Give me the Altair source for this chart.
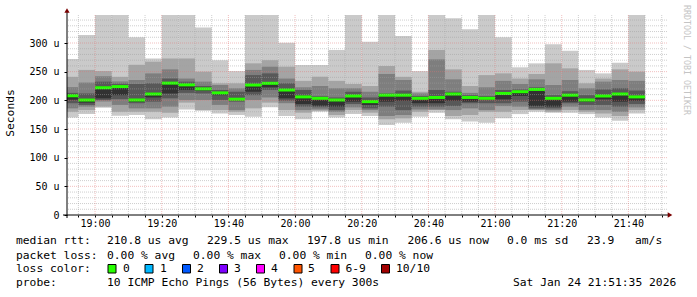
import altair as alt
import pandas as pd

# ---------------- data ----------------
bin_starts = ["18:50", "18:55", "19:00", "19:05", "19:10", "19:15", "19:20", "19:25",
              "19:30", "19:35", "19:40", "19:45", "19:50", "19:55", "20:00", "20:05",
              "20:10", "20:15", "20:20", "20:25", "20:30", "20:35", "20:40", "20:45",
              "20:50", "20:55", "21:00", "21:05", "21:10", "21:15", "21:20", "21:25",
              "21:30", "21:35", "21:40"]
step_minutes = 5
window_end = "21:51:35"
window_minutes = 180

# sorted ping values (us) per 5-minute step, p1 = fastest ... p10 = slowest
p1 = [170, 176, 187, 173, 174.5, 167, 170, 184, 182, 177, 174.4, 171.5, 187.8, 172.7, 167, 180, 170, 176,
      172.7, 157, 161, 171.5, 178.5, 167, 163, 161, 168.6, 176, 180, 178.5, 178.5, 176, 170, 164.5, 177]
p2 = [180, 183, 189, 180, 180, 180, 178.5, 196, 183, 183, 180, 186, 196, 183, 178.5, 182, 174.4, 183,
      178.5, 167, 168.6, 180, 183, 172.7, 174.4, 180, 180, 183, 183, 180, 183, 180, 177, 172.7, 183]
p3 = [186, 189, 198, 192, 186, 186, 189, 200.6, 200.6, 192, 183, 200.6, 205, 195, 183, 184, 180, 187.8,
      183, 172.7, 174.4, 184, 184, 183, 186, 183, 190, 189, 184, 183, 189, 183, 183, 180, 187.8]
p4 = [195, 192, 200.6, 202, 195, 197.7, 203.5, 213, 212, 200.6, 197.7, 209, 218, 199.4, 189, 187.8, 183, 193.6,
      186, 189, 183, 189, 189, 190, 195, 195, 195, 197.7, 186, 186, 195, 192, 192, 189, 193.6]
p5 = [201, 196, 203.5, 209, 197.7, 205, 212, 218, 217, 209, 200.6, 215, 222.7, 203.5, 193.6, 190.7, 189, 197.7,
      192, 197.7, 199.4, 195, 195, 199.4, 197.7, 200.6, 201.7, 207.6, 190, 189, 197.7, 197.7, 201.7, 197.7, 199.4]
p6 = [210, 202, 224, 226.5, 202, 213, 232, 228.5, 221.5, 214.5, 203.5, 228.5, 231, 220, 208, 204, 202, 209,
      199, 210, 210.5, 204.5, 206.5, 212.5, 206, 204.5, 213.5, 216, 220.5, 205, 210.5, 202, 209, 212.5, 207.5]
p7 = [213, 212, 232.6, 229, 228.5, 229.7, 238, 232.6, 225, 218, 215, 244, 247, 229.7, 218, 207, 205, 215,
      205, 212, 217, 207.6, 218, 215, 209, 207.6, 218, 219, 222.7, 209, 216, 209, 219, 221, 217]
p8 = [223, 231, 242, 233, 235.5, 247, 254, 238, 232.6, 226.7, 221, 253, 258.7, 238, 222.7, 225, 221, 221,
      215, 246, 235.5, 212, 271.5, 236.6, 213, 222.7, 234, 228.5, 236.6, 226.7, 235.5, 221, 232.6, 235.5, 234]
p9 = [241, 253, 251, 241, 262, 267.4, 273, 273, 250, 229.7, 229.7, 264.5, 270, 258.7, 234, 241, 234, 228.5,
      225, 260, 241, 215, 287.8, 254, 225, 244, 247, 238, 246, 264.5, 255.8, 229.7, 238, 254, 250]
p10 = [272, 314, 360, 360, 310, 273, 360, 360, 327, 270, 251, 360, 360, 300.6, 261.6, 261.6, 287.8, 360,
       302, 360, 312, 251, 360, 343, 324, 360, 310, 257.6, 264.5, 298, 286.6, 253, 247, 265.7, 360]
median = [208, 200.5, 222, 224, 200.6, 211, 230, 227, 220, 213, 202, 226.7, 229.7, 218, 206, 203.5, 200.6, 207.6,
          197.7, 209, 209, 203.5, 205, 211, 205, 203.5, 212, 215, 219, 203.5, 209, 200.6, 207.6, 211, 206]

x_tick_labels = ["19:00", "19:20", "19:40", "20:00", "20:20", "20:40", "21:00", "21:20", "21:40"]
y_tick_values = [0, 50, 100, 150, 200, 250, 300]
y_max = 348.84

smoke_colors = ["#cacaca", "#a4a4a4", "#7e7e7e", "#585858", "#323232"]
median_color = "#26ff00"

rtt_label = "median rtt:"
rtt_stats = ["210.8 us avg", "229.5 us max", "197.8 us min", "206.6 us now", "0.0 ms sd", "23.9", "am/s"]
loss_label = "packet loss:"
loss_stats = ["0.00 % avg", "0.00 % max", "0.00 % min", "0.00 % now"]
color_label = "loss color:"
loss_names = ["0", "1", "2", "3", "4", "5", "6-9", "10/10"]
loss_colors = ["#26ff00", "#00b8ff", "#0059ff", "#7e00ff", "#ff00ff", "#ff5500", "#ff0000", "#a10000"]
probe_label = "probe:"
probe_text = "10 ICMP Echo Pings (56 Bytes) every 300s"
stamp_text = "Sat Jan 24 21:51:35 2026"
watermark = "RRDTOOL / TOBI OETIKER"
y_title = "Seconds"


def to_min(s):
    parts = [int(v) for v in s.split(":")]
    while len(parts) < 3:
        parts.append(0)
    return parts[0] * 60 + parts[1] + parts[2] / 60.0


t1 = to_min(window_end)
t0 = t1 - window_minutes

pings = [p1, p2, p3, p4, p5, p6, p7, p8, p9, p10]
rows = []
for k in range(5):
    for i, s in enumerate(bin_starts):
        st = to_min(s)
        rows.append({"start": st, "end": st + step_minutes, "lo": pings[k][i],
                     "hi": pings[9 - k][i], "band": k + 1})
smoke_df = pd.DataFrame(rows)
med_df = pd.DataFrame({"start": [to_min(s) for s in bin_starts],
                       "end": [to_min(s) + step_minutes for s in bin_starts],
                       "median": median})

x_major = [to_min(s) for s in x_tick_labels]
first_tick = int(t0 // step_minutes + 1) * step_minutes
x_all = list(range(int(first_tick), int(t1), step_minutes))
x_minor = [v for v in x_all if v not in x_major]
y_major = [v for v in y_tick_values if v > 0]
y_minor = [v for v in range(10, int(y_max), 10) if v % 50 != 0]

FONT = "DejaVu Sans Mono"
xs = alt.Scale(domain=[t0, t1], nice=False, zero=False)
ys = alt.Scale(domain=[0, y_max], nice=False, zero=True)

x_axis = alt.Axis(values=x_all, domain=False, grid=False, tickSize=2, tickColor="black",
                  labelExpr="datum.value % 20 == 0 ? (floor(datum.value/60) + ':' + "
                            "(datum.value % 60 < 10 ? '0' : '') + (datum.value % 60)) : ''",
                  labelFont=FONT, labelFontSize=10, labelColor="black", labelPadding=1,
                  labelBaseline="top", title=None, labelFlush=False, labelOverlap=False)
y_axis = alt.Axis(values=y_tick_values, domain=False, grid=False, tickSize=3, tickColor="black",
                  labelExpr="datum.value == 0 ? '0\u00a0\u00a0' : datum.value + ' u'",
                  labelFont=FONT, labelFontSize=10, labelColor="black", labelPadding=5,
                  title=None, labelFlush=False, labelOverlap=False)

smoke = alt.Chart(smoke_df).mark_rect(clip=True, strokeWidth=0).encode(
    x=alt.X("start:Q", scale=xs, axis=x_axis),
    x2="end:Q",
    y=alt.Y("lo:Q", scale=ys, axis=y_axis),
    y2="hi:Q",
    color=alt.Color("band:O", scale=alt.Scale(domain=[1, 2, 3, 4, 5], range=smoke_colors), legend=None),
    order=alt.Order("band:Q"),
)

med = alt.Chart(med_df).mark_rule(clip=True, color=median_color, strokeWidth=3).encode(
    x=alt.X("start:Q", scale=xs, axis=x_axis),
    x2="end:Q",
    y=alt.Y("median:Q", scale=ys, axis=y_axis),
)

dash = [1, 1]
grid_y_minor = alt.Chart(pd.DataFrame({"v": y_minor})).mark_rule(
    color="#a0a0a0", opacity=0.5, strokeDash=dash, strokeWidth=1).encode(
    y=alt.Y("v:Q", scale=ys, axis=y_axis))
grid_x_minor = alt.Chart(pd.DataFrame({"v": x_minor})).mark_rule(
    color="#a0a0a0", opacity=0.5, strokeDash=dash, strokeWidth=1).encode(
    x=alt.X("v:Q", scale=xs, axis=x_axis))
grid_y_major = alt.Chart(pd.DataFrame({"v": y_major})).mark_rule(
    color="#e07070", opacity=0.45, strokeDash=dash, strokeWidth=1).encode(
    y=alt.Y("v:Q", scale=ys, axis=y_axis))
grid_x_major = alt.Chart(pd.DataFrame({"v": x_major})).mark_rule(
    color="#e07070", opacity=0.45, strokeDash=dash, strokeWidth=1).encode(
    x=alt.X("v:Q", scale=xs, axis=x_axis))

dummy = alt.Data(values=[{"a": 1}])

x_line = alt.Chart(dummy).mark_rule(color="black", strokeWidth=1).encode(
    x=alt.value(-4), x2=alt.value(603), y=alt.value(200))
y_line = alt.Chart(dummy).mark_rule(color="black", strokeWidth=1).encode(
    x=alt.value(0), y=alt.value(203), y2=alt.value(-4))
arrow_up = alt.Chart(dummy).mark_point(shape="triangle-up", filled=True, color="#7a0000",
                                       size=28, opacity=1).encode(x=alt.value(0), y=alt.value(-4.5))
arrow_right = alt.Chart(dummy).mark_point(shape="triangle-right", filled=True, color="#7a0000",
                                          size=28, opacity=1).encode(x=alt.value(603), y=alt.value(200))


def txt(s, x, y, size=11.3, color="black", angle=0, align="left"):
    return alt.Chart(dummy).mark_text(text=s, font=FONT, fontSize=size, color=color, angle=angle,
                                      align=align, baseline="middle").encode(
        x=alt.value(x - 67), y=alt.value(y - 15))


layers = [smoke, med, grid_y_minor, grid_x_minor, grid_y_major, grid_x_major,
          x_line, y_line, arrow_up, arrow_right]

# y title and watermark
layers.append(txt(y_title, 11, 113, angle=270, align="center"))
layers.append(txt(watermark, 686, 60, size=8.3, color="#c4c4c4", angle=90, align="center"))

# legend line 1
l1 = 241
layers.append(txt(rtt_label, 16, l1))
for s, x in zip(rtt_stats, [107, 207, 307, 407.5, 507, 587, 635]):
    layers.append(txt(s, x, l1))
# legend line 2
l2 = 255.5
layers.append(txt(loss_label, 16, l2))
for s, x in zip(loss_stats, [107, 193, 279, 365]):
    layers.append(txt(s, x, l2))
# legend line 3
l3 = 269
layers.append(txt(color_label, 16, l3))
sq_x = [108, 145, 182.5, 219.5, 256.5, 294, 331, 381.5]
lab_x = [123, 160, 197, 234, 271, 308, 345.5, 396]
for name, col, sx, lx in zip(loss_names, loss_colors, sq_x, lab_x):
    layers.append(alt.Chart(dummy).mark_rect(color=col, stroke="black", strokeWidth=1).encode(
        x=alt.value(sx - 67), x2=alt.value(sx - 67 + 8),
        y=alt.value(l3 - 4.5 - 15), y2=alt.value(l3 + 4 - 15)))
    layers.append(txt(name, lx, l3))
# legend line 4
l4 = 283.3
layers.append(txt(probe_label, 16, l4))
layers.append(txt(probe_text, 107, l4))
layers.append(txt(stamp_text, 513, l4))

chart = alt.layer(*layers).properties(
    width=600, height=200,
    padding={"left": 67, "top": 15, "right": 30, "bottom": 82},
    autosize=alt.AutoSizeParams(type="none"),
    background="white",
).configure_view(stroke=None)

chart.save("out.html", embed_options={"renderer": "svg", "actions": False})
